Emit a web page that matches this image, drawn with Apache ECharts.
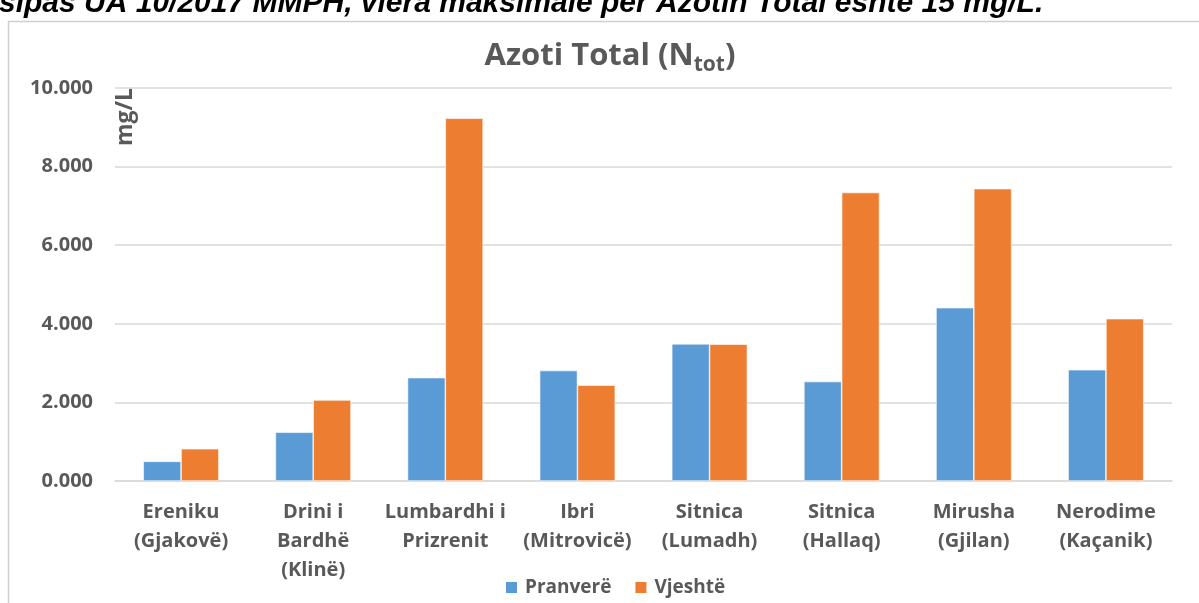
<!DOCTYPE html>
<html>
<head>
<meta charset="utf-8">
<script src="https://cdn.jsdelivr.net/npm/echarts@6/dist/echarts.min.js"></script>
<style>
html,body{margin:0;padding:0;background:#fff;}
#c{width:1199px;height:603px;}
</style>
</head>
<body>
<div id="c"></div>
<script>
const categories = [
  'Ereniku\n(Gjakovë)',
  'Drini i\nBardhë\n(Klinë)',
  'Lumbardhi i\nPrizrenit',
  'Ibri\n(Mitrovicë)',
  'Sitnica\n(Lumadh)',
  'Sitnica\n(Hallaq)',
  'Mirusha\n(Gjilan)',
  'Nerodime\n(Kaçanik)'
];
const pranvere = [0.50, 1.24, 2.63, 2.81, 3.49, 2.53, 4.41, 2.83];
const vjeshte  = [0.82, 2.06, 9.23, 2.44, 3.48, 7.34, 7.44, 4.13];
const seriesNames = ['Pranverë', 'Vjeshtë'];
const yTicks = {min: 0, max: 10, interval: 2};
const captionText = 'sipas UA 10/2017 MMPH, vlera maksimale për Azotin Total është 15 mg/L.';

const FONT = 'Open Sans';
const GREY = '#595959';

const chart = echarts.init(document.getElementById('c'), null, {renderer: 'canvas'});
chart.setOption({
  animation: false,
  backgroundColor: '#ffffff',
  color: ['#5b9bd5', '#ed7d31'],
  grid: {left: 115, right: 27, top: 88, bottom: 122, containLabel: false},
  xAxis: {
    type: 'category',
    data: categories,
    axisLine: {show: true, lineStyle: {color: '#d9d9d9', width: 1.5}},
    axisTick: {show: false},
    axisLabel: {
      interval: 0, color: GREY, fontFamily: FONT, fontWeight: 'bold',
      fontSize: 20, lineHeight: 29, margin: 17
    }
  },
  yAxis: {
    type: 'value',
    min: yTicks.min, max: yTicks.max, interval: yTicks.interval,
    axisLine: {show: false},
    axisTick: {show: false},
    splitLine: {lineStyle: {color: '#d9d9d9', width: 1.5}},
    axisLabel: {
      color: GREY, fontFamily: FONT, fontWeight: 'bold', fontSize: 20, margin: 22,
      formatter: v => v.toFixed(3)
    }
  },
  legend: {
    data: seriesNames,
    bottom: 1,
    left: 499,
    itemWidth: 13, itemHeight: 13, itemGap: 22,
    icon: 'rect',
    textStyle: {color: GREY, fontFamily: FONT, fontWeight: 'bold', fontSize: 19, padding: [0,0,0,2]}
  },
  series: [
    {name: seriesNames[0], type: 'bar', data: pranvere, barWidth: 37.8, barGap: '0%',
     itemStyle: {borderColor: '#ffffff', borderWidth: 0.6}},
    {name: seriesNames[1], type: 'bar', data: vjeshte, barWidth: 37.8, barGap: '0%',
     itemStyle: {borderColor: '#ffffff', borderWidth: 0.6}}
  ],
  graphic: [
    {type: 'rect', silent: true, z: -1,
     shape: {x: 8.5, y: 21.5, width: 1400, height: 800},
     style: {fill: 'none', stroke: '#d0d0d0', lineWidth: 1.5}},
    {type: 'text', silent: true,
     x: -1, y: 19,
     style: {text: captionText, fill: '#000', font: 'italic bold 30px "Liberation Sans"',
             textAlign: 'left', textVerticalAlign: 'bottom'}},
    {type: 'text', silent: true,
     x: 610, y: 56,
     style: {
       text: '{a|Azoti Total (N}{b|tot}{a|)}',
       textAlign: 'center', textVerticalAlign: 'middle',
       rich: {
         a: {fontFamily: FONT, fontWeight: 'bold', fontSize: 31, fill: GREY, lineHeight: 40},
         b: {fontFamily: FONT, fontWeight: 'bold', fontSize: 21, fill: GREY, lineHeight: 24, verticalAlign: 'bottom'}
       }
     }},
    {type: 'text', silent: true,
     x: 125, y: 117, rotation: Math.PI / 2,
     style: {text: 'mg/L', fill: GREY, font: 'bold 23px "Open Sans"',
             textAlign: 'center', textVerticalAlign: 'middle'}}
  ]
});
</script>
</body>
</html>
